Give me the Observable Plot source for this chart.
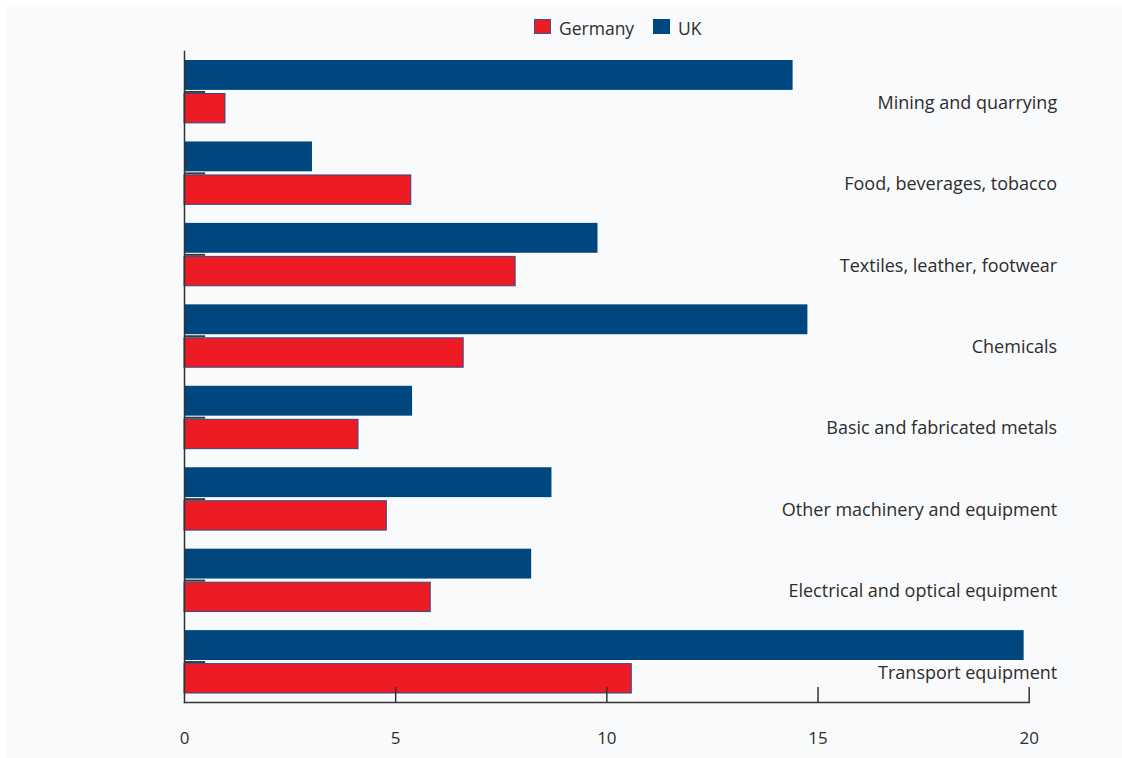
<!DOCTYPE html>
<html>
<head>
<meta charset="utf-8">
<script src="https://cdn.jsdelivr.net/npm/d3@7"></script>
<script src="https://cdn.jsdelivr.net/npm/@observablehq/plot@0.6"></script>
<style>
  html, body { margin: 0; padding: 0; background: #ffffff; }
  #wrap { position: relative; width: 1122px; height: 758px; overflow: hidden; }
  #panel { position: absolute; left: 7px; top: 5px; right: 0; bottom: 0; background: #f9fafc; }
  #legend { position: absolute; left: 0; top: 0; width: 1122px; height: 45px;
    font-family: "Open Sans", sans-serif; font-size: 17.5px; color: #2d2d2d; }
  .sw { position: absolute; top: 19px; width: 17px; height: 15px; box-sizing: border-box; }
  .lt { position: absolute; top: 16px; line-height: 24px; }
  #chart { position: absolute; left: 0; top: 45px; }
</style>
</head>
<body>
<div id="wrap">
  <div id="panel"></div>
  <div id="legend">
    <div class="sw" style="left:534px;background:#ed1c24;border:1px solid #4a4f86;"></div>
    <div class="lt" style="left:559px;">Germany</div>
    <div class="sw" style="left:653px;background:#00467f;"></div>
    <div class="lt" style="left:678px;">UK</div>
  </div>
  <div id="chart"></div>
</div>
<script>
const categories = [
  "Mining and quarrying",
  "Food, beverages, tobacco",
  "Textiles, leather, footwear",
  "Chemicals",
  "Basic and fabricated metals",
  "Other machinery and equipment",
  "Electrical and optical equipment",
  "Transport equipment"
];
const germany = [0.97, 5.37, 7.84, 6.61, 4.12, 4.79, 5.83, 10.59];
const uk = [14.41, 3.03, 9.79, 14.76, 5.40, 8.70, 8.22, 19.88];
const xTicks = [0, 5, 10, 15, 20];

const ukData = categories.map((c, i) => ({category: c, value: uk[i]}));
const deData = categories.map((c, i) => ({category: c, value: germany[i]}));

const W = 1122, H = 713, mTop = 6, mBottom = 56;
const font = "'Open Sans', sans-serif";

const plot = Plot.plot({
  width: W,
  height: H,
  marginLeft: 184,
  marginRight: 93.3,
  marginTop: mTop,
  marginBottom: mBottom,
  style: {background: "transparent", fontFamily: font, fontSize: "17px", color: "#2d2d2d"},
  x: {domain: [0, 20], ticks: xTicks, label: null},
  y: {domain: categories, paddingInner: 0.228, paddingOuter: 0, insetTop: 9, insetBottom: 9, round: false, axis: null},
  marks: [
    Plot.barX(ukData, {x: "value", y: "category", fill: "#00467f", insetBottom: 33}),
    Plot.barX(deData, {x: "value", y: "category", fill: "#ed1c24", stroke: "#2e4a87", strokeWidth: 1, insetTop: 33.5}),
    Plot.ruleY(categories, {y: d => d, x1: 0, x2: 0.5, stroke: "#3a3a3a", strokeWidth: 2}),
    Plot.text(categories, {y: d => d, text: d => d, frameAnchor: "right", textAnchor: "end", dx: 28, dy: 11, fill: "#2d2d2d", fontSize: 18}),
    Plot.frame({anchor: "left", stroke: "#333", strokeWidth: 1.5}),
    Plot.frame({anchor: "bottom", stroke: "#333", strokeWidth: 1.5}),
    Plot.ruleX(xTicks.slice(1), {x: d => d, insetTop: (H - mTop - mBottom) - 15, stroke: "#333", strokeWidth: 1.5}),
    Plot.axisX({ticks: xTicks, tickSize: 0, tickPadding: 29, label: null, fontSize: 17, fill: "#2d2d2d"})
  ]
});
document.getElementById("chart").appendChild(plot);
</script>
</body>
</html>
